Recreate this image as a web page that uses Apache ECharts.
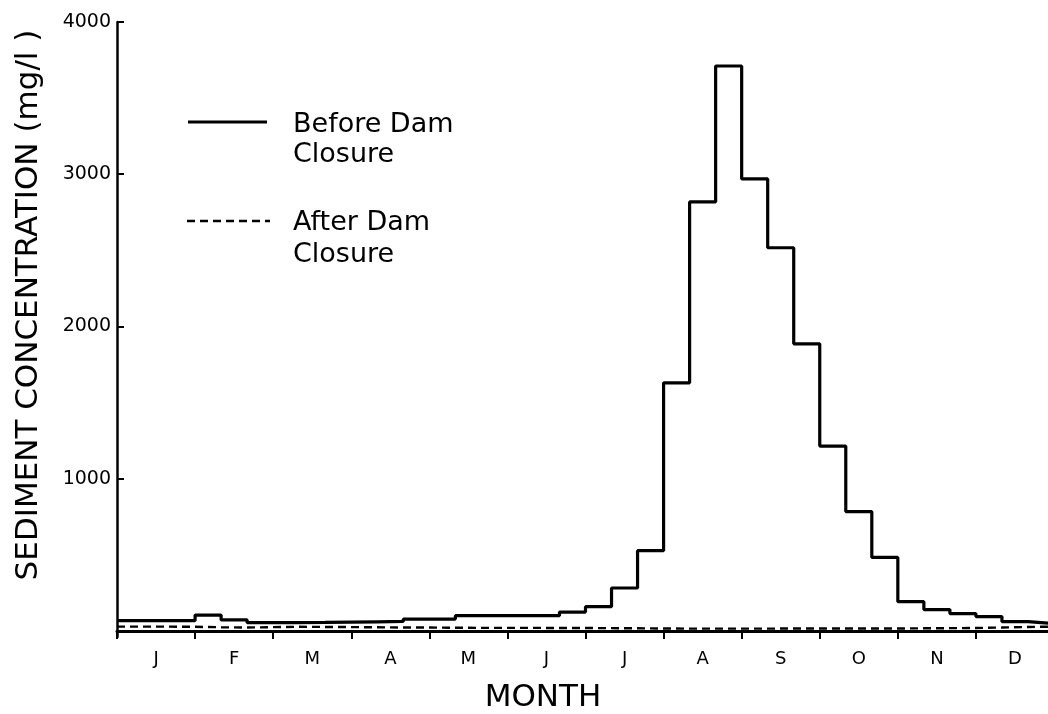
<!DOCTYPE html>
<html>
<head>
<meta charset="utf-8">
<script src="https://cdn.jsdelivr.net/npm/echarts@6/dist/echarts.min.js"></script>
<style>
  html, body { margin: 0; padding: 0; background: #ffffff; }
  #chart { width: 1048px; height: 714px; }
</style>
</head>
<body>
<div id="chart"></div>
<script>
// Month initials shown under the time axis (one per month)
const monthLabels = ['J', 'F', 'M', 'A', 'M', 'J', 'J', 'A', 'S', 'O', 'N', 'D'];

// Labelled concentration ticks (mg/l)
const yTickValues = [1000, 2000, 3000, 4000];

// Ten-day mean sediment concentration (mg/l), three periods per month, Jan -> Dec
const beforeClosure = [
  67, 67, 67,        // Jan
  104, 72, 54,       // Feb
  55, 56, 58,        // Mar
  60, 62, 78,        // Apr
  78, 100, 100,      // May
  100, 100, 124,     // Jun
  159, 282, 527,     // Jul
  1630, 2818, 3711,  // Aug
  2969, 2517, 1886,  // Sep
  1214, 784, 483,    // Oct
  192, 140, 114,     // Nov
  94, 61, 48         // Dec
];

const afterClosure = [
  28, 28, 27,
  24, 22, 25,
  27, 26, 25,
  24, 22, 22,
  21, 20, 20,
  20, 19, 19,
  18, 17, 16,
  15, 15, 15,
  15, 16, 16,
  16, 16, 16,
  17, 18, 19,
  22, 26, 28
];

const FONT = '"DejaVu Sans", sans-serif';

// Turn per-period values into step points: each value starts at its period
// and holds until the next one; the last one runs to the end of December.
function toSteps(values) {
  const pts = values.map((v, i) => [i / 3, v]);
  pts.push([12, values[values.length - 1]]);
  return pts;
}

const monthCenters = monthLabels.map((_, i) => i + 0.5);
const monthBounds = Array.from({ length: 12 }, (_, i) => i);

const chart = echarts.init(document.getElementById('chart'), null, { renderer: 'canvas' });

chart.setOption({
  backgroundColor: '#ffffff',
  animation: false,
  grid: {
    left: 117,
    right: -6,
    top: 22,
    bottom: 77,
    outerBoundsMode: 'none'
  },
  xAxis: {
    type: 'value',
    min: 0,
    max: 12,
    axisLine: { show: true, lineStyle: { color: '#000', width: 3 } },
    axisTick: {
      show: true,
      inside: false,
      length: 8,
      customValues: monthBounds,
      lineStyle: { color: '#000', width: 2 }
    },
    axisLabel: {
      show: true,
      customValues: monthCenters,
      formatter: (v) => monthLabels[Math.floor(v)],
      margin: 13,
      color: '#000',
      fontFamily: FONT,
      fontSize: 18
    },
    splitLine: { show: false }
  },
  yAxis: {
    type: 'value',
    min: -40,
    max: 4000,
    axisLine: { show: true, lineStyle: { color: '#000', width: 2.5 } },
    axisTick: {
      show: true,
      inside: true,
      length: 7,
      customValues: yTickValues,
      lineStyle: { color: '#000', width: 2 }
    },
    axisLabel: {
      show: true,
      customValues: yTickValues,
      formatter: (v) => String(v),
      margin: 6,
      color: '#000',
      fontFamily: FONT,
      fontSize: 19
    },
    splitLine: { show: false }
  },
  series: [
    {
      name: 'Before Dam Closure',
      type: 'line',
      step: 'end',
      data: toSteps(beforeClosure),
      showSymbol: false,
      clip: true,
      lineStyle: { color: '#000', width: 3.2, type: 'solid' }
    },
    {
      name: 'After Dam Closure',
      type: 'line',
      step: 'end',
      data: toSteps(afterClosure),
      showSymbol: false,
      clip: true,
      lineStyle: { color: '#000', width: 2.4, type: [8, 5] }
    }
  ],
  graphic: [
    // vertical axis title
    {
      type: 'text',
      x: 29,
      y: 305,
      rotation: Math.PI / 2,
      style: {
        text: 'SEDIMENT CONCENTRATION (mg/l )',
        font: '31px ' + FONT,
        fill: '#000',
        align: 'center',
        verticalAlign: 'middle',
        textAlign: 'center',
        textVerticalAlign: 'middle'
      }
    },
    // horizontal axis title
    {
      type: 'text',
      x: 543,
      y: 698,
      style: {
        text: 'MONTH',
        font: '31px ' + FONT,
        fill: '#000',
        align: 'center',
        verticalAlign: 'middle',
        textAlign: 'center',
        textVerticalAlign: 'middle'
      }
    },
    // key: solid line
    {
      type: 'line',
      shape: { x1: 188, y1: 122, x2: 267, y2: 122 },
      style: { stroke: '#000', lineWidth: 2.8 }
    },
    { type: 'text', x: 293, y: 125, style: { text: 'Before Dam', font: '27px ' + FONT, fill: '#000', align: 'left', verticalAlign: 'middle', textAlign: 'left', textVerticalAlign: 'middle' } },
    { type: 'text', x: 293, y: 155, style: { text: 'Closure', font: '27px ' + FONT, fill: '#000', align: 'left', verticalAlign: 'middle', textAlign: 'left', textVerticalAlign: 'middle' } },
    // key: dashed line
    {
      type: 'line',
      shape: { x1: 187, y1: 221, x2: 270, y2: 221 },
      style: { stroke: '#000', lineWidth: 2.4, lineDash: [8, 5] }
    },
    { type: 'text', x: 293, y: 223, style: { text: 'After Dam', font: '27px ' + FONT, fill: '#000', align: 'left', verticalAlign: 'middle', textAlign: 'left', textVerticalAlign: 'middle' } },
    { type: 'text', x: 293, y: 255, style: { text: 'Closure', font: '27px ' + FONT, fill: '#000', align: 'left', verticalAlign: 'middle', textAlign: 'left', textVerticalAlign: 'middle' } }
  ]
});
</script>
</body>
</html>
